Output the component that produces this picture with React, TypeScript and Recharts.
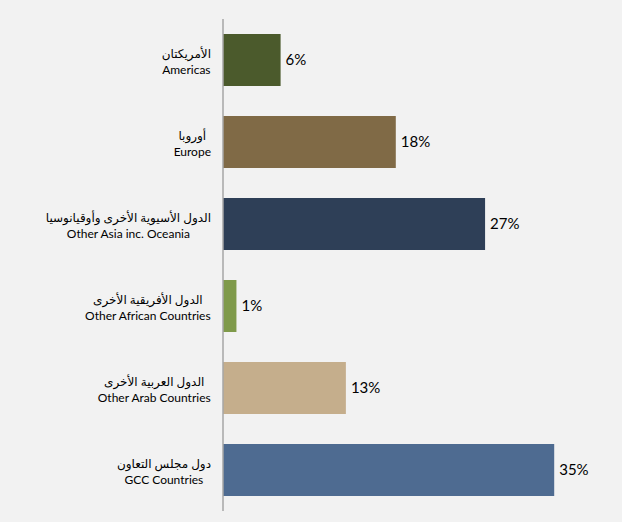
import { BarChart, Bar, XAxis, YAxis, Cell, LabelList } from "recharts";

const arabicNames = [
  "الأمريكتان",
  "أوروبا",
  "الدول الأسيوية الأخرى وأوقيانوسيا",
  "الدول الأفريقية الأخرى",
  "الدول العربية الأخرى",
  "دول مجلس التعاون",
];
const englishNames = [
  "Americas",
  "Europe",
  "Other Asia inc. Oceania",
  "Other African Countries",
  "Other Arab Countries",
  "GCC Countries",
];
const shares = [6.0, 18.0, 27.3, 1.4, 12.8, 34.5];
const barColors = ["#4b5a2c", "#806a46", "#2e3f57", "#7f9a4a", "#c5ae8c", "#4e6b91"];

const data = englishNames.map((en, i) => ({ en, ar: arabicNames[i], share: shares[i] }));

const FONT = 'Lato, "DejaVu Sans", sans-serif';

let ctx: CanvasRenderingContext2D | null = null;
function textWidth(s: string) {
  if (!ctx) ctx = document.createElement("canvas").getContext("2d");
  if (!ctx) return s.length * 6;
  ctx.font = `12px ${FONT}`;
  return ctx.measureText(s).width;
}

function CategoryTick(props: any) {
  const { x, y, index } = props;
  const ar = arabicNames[index];
  const en = englishNames[index];
  // excel-style: block right aligned, lines centered inside it
  const block = Math.max(textWidth(ar), textWidth(en));
  const cx = x - block / 2;
  return (
    <g>
      <text x={cx} y={y - 7} textAnchor="middle" dominantBaseline="central" fontSize={12} fill="#000" fontFamily={FONT}>
        {ar}
      </text>
      <text x={cx} y={y + 9} textAnchor="middle" dominantBaseline="central" fontSize={12} fill="#000" fontFamily={FONT}>
        {en}
      </text>
    </g>
  );
}

export default function App() {
  return (
    <div style={{ position: "absolute", top: 0, left: 0, width: 622, height: 522, background: "#f2f2f2" }}>
      <BarChart
        width={622}
        height={522}
        data={data}
        layout="vertical"
        margin={{ top: 19, right: 15, bottom: 11, left: 0 }}
        barCategoryGap={15}
      >
        <XAxis type="number" domain={[0, 40]} hide />
        <YAxis
          type="category"
          dataKey="en"
          width={223}
          axisLine={{ stroke: "#a6a6a6", strokeWidth: 1.5 }}
          tickLine={false}
          tickSize={0}
          tickMargin={12}
          tick={<CategoryTick />}
        />
        <Bar dataKey="share" isAnimationActive={false}>
          {data.map((_, i) => (
            <Cell key={i} fill={barColors[i]} />
          ))}
          <LabelList
            dataKey="share"
            position="right"
            offset={5}
            fill="#000"
            fontSize={15}
            fontFamily={FONT}
            formatter={(v: any) => `${Math.round(Number(v))}%`}
          />
        </Bar>
      </BarChart>
    </div>
  );
}
